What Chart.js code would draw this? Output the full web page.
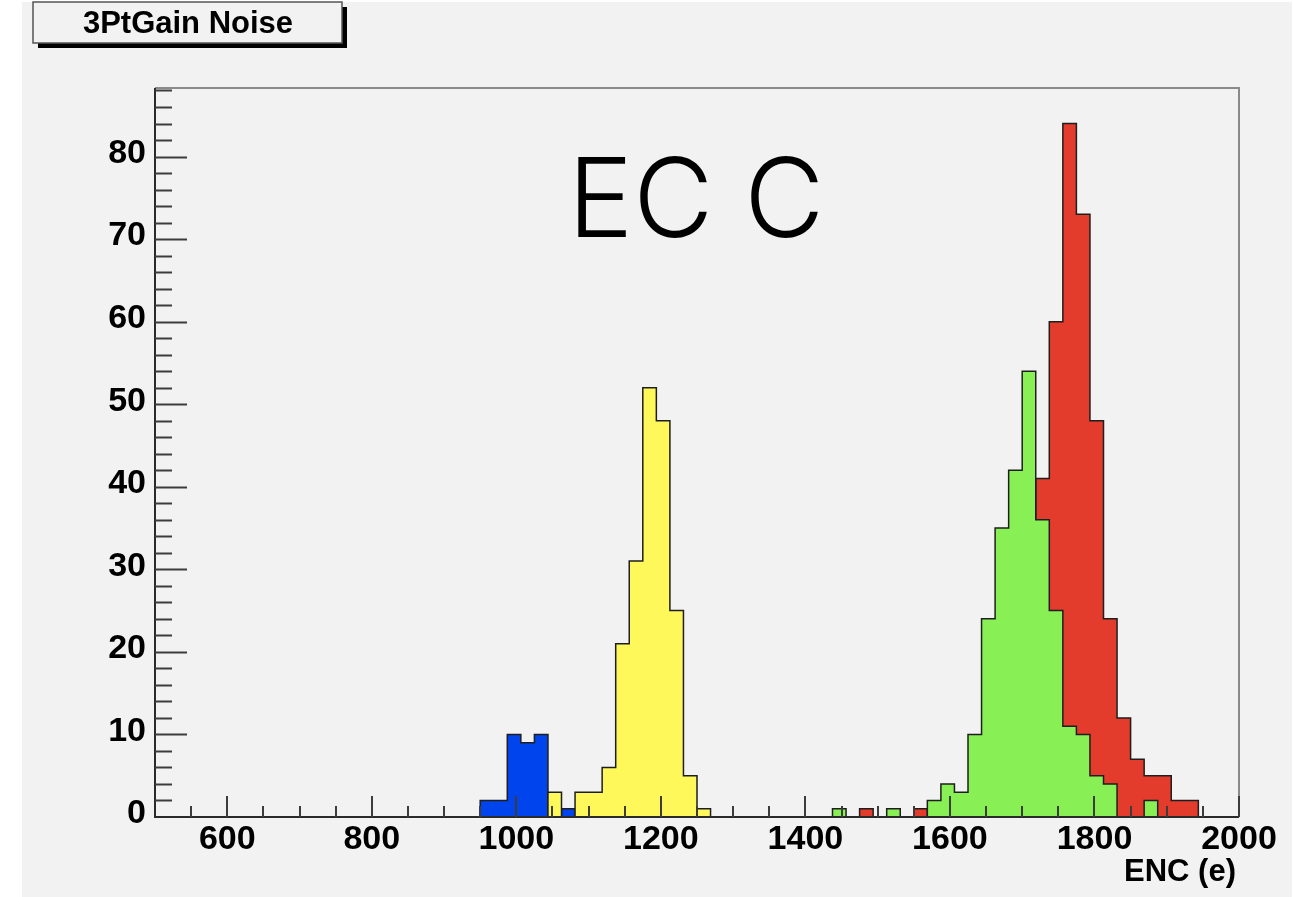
<!DOCTYPE html>
<html>
<head>
<meta charset="utf-8">
<title>3PtGain Noise</title>
<script src="https://cdn.jsdelivr.net/npm/chart.js@4.4.1/dist/chart.umd.min.js"></script>
<style>
  html, body { margin: 0; padding: 0; background: #ffffff; }
  canvas { display: block; }
</style>
</head>
<body>
<canvas id="noiseChart" width="1294" height="897"></canvas>
<script>
// Histogram binning: 80 bins across 500..2000 e
const binLow = 500;
const binWidth = 18.75;
const nBins = 80;

// Bin counts per chip group, starting at the given bin index
const blueFirstBin = 24;
const blueCounts = [2, 2, 10, 9, 10, 0, 1];

const yellowFirstBin = 29;
const yellowCounts = [3, 0, 3, 3, 6, 21, 31, 52, 48, 25, 5, 1];

const greenFirstBin = 50;
const greenCounts = [1, 0, 0, 0, 1, 0, 0, 2, 4, 3, 10, 24, 35, 42, 54, 36, 25, 11, 10, 5, 4, 0, 0, 2];

const redFirstBin = 52;
const redCounts = [1, 0, 0, 0, 1, 0, 0, 0, 0, 0, 0, 0, 0, 41, 60, 84, 73, 48, 24, 12, 7, 5, 5, 2, 2];

// Axis labels
const xTickValues = [600, 800, 1000, 1200, 1400, 1600, 1800, 2000];
const yTickValues = [0, 10, 20, 30, 40, 50, 60, 70, 80];
const xTitle = "ENC (e)";
const histTitle = "3PtGain Noise";
const panelLabel = "EC C";

// Turn bin counts into a closed step outline (two points per bin)
function histPoints(firstBin, counts) {
    const pts = [];
    for (let i = 0; i < nBins; i++) {
        const k = i - firstBin;
        const v = (k >= 0 && k < counts.length) ? counts[k] : 0;
        pts.push({ x: binLow + i * binWidth, y: v });
        pts.push({ x: binLow + (i + 1) * binWidth, y: v });
    }
    return pts;
}

function histDataset(label, firstBin, counts, color) {
    return {
        label: label,
        data: histPoints(firstBin, counts),
        borderColor: "#1e1e1e",
        borderWidth: 1.5,
        backgroundColor: color,
        fill: "origin",
        pointRadius: 0,
        tension: 0
    };
}

// ROOT-like frame, ticks and text
const rootFrame = {
    id: "rootFrame",
    beforeDraw(chart) {
        const c = chart.ctx;
        c.save();
        c.fillStyle = "#ffffff";
        c.fillRect(0, 0, chart.width, chart.height);
        c.fillStyle = "#f2f2f2";
        c.fillRect(22, 2, 1270, chart.height - 2);
        c.restore();
    },
    afterDraw(chart) {
        const c = chart.ctx;
        const a = chart.chartArea;
        const xs = chart.scales.x;
        const ys = chart.scales.y;
        c.save();

        // frame: top/right light, left/bottom dark
        c.lineWidth = 2;
        c.strokeStyle = "#8a8a8a";
        c.beginPath();
        c.moveTo(a.left, a.top);
        c.lineTo(a.right, a.top);
        c.lineTo(a.right, a.bottom);
        c.stroke();
        c.strokeStyle = "#2a2a2a";
        c.beginPath();
        c.moveTo(a.left, a.top);
        c.lineTo(a.left, a.bottom);
        c.lineTo(a.right, a.bottom);
        c.stroke();

        // ticks, drawn inside the frame
        c.strokeStyle = "#3c3c3c";
        c.lineWidth = 2;
        c.beginPath();
        for (let v = 2; v <= ys.max; v += 2) {
            const y = Math.round(ys.getPixelForValue(v)) + 0.5;
            const len = v % 10 === 0 ? 32 : 17;
            c.moveTo(a.left, y);
            c.lineTo(a.left + len, y);
        }
        for (let v = 550; v <= xs.max; v += 50) {
            const x = Math.round(xs.getPixelForValue(v));
            const len = (v - 600) % 200 === 0 ? 21 : 11;
            c.moveTo(x, a.bottom);
            c.lineTo(x, a.bottom - len);
        }
        c.stroke();

        // histogram title box with drop shadow
        c.fillStyle = "#000000";
        c.fillRect(38, 43, 309, 5);
        c.fillRect(342, 7, 5, 41);
        c.fillStyle = "#f2f2f2";
        c.fillRect(33, 2, 309, 41);
        c.strokeStyle = "#555555";
        c.lineWidth = 1.5;
        c.strokeRect(33, 2, 309, 41);
        c.fillStyle = "#000000";
        c.font = "bold 31px 'Liberation Sans', Arial, sans-serif";
        c.textAlign = "center";
        c.textBaseline = "alphabetic";
        c.fillText(histTitle, 188, 33);

        // x axis title
        c.textAlign = "right";
        c.font = "bold 31px 'Liberation Sans', Arial, sans-serif";
        c.fillText(xTitle, 1236, 881);

        // panel label
        c.textAlign = "center";
        c.font = "300 110px Inter, 'Liberation Sans', sans-serif";
        c.fillText(panelLabel, 696, 237);

        c.restore();
    }
};

const tickFont = { family: "'Liberation Sans', Arial, sans-serif", size: 34, weight: "bold" };

new Chart(document.getElementById("noiseChart"), {
    type: "line",
    data: {
        datasets: [
            histDataset("green", greenFirstBin, greenCounts, "#88f054"),
            histDataset("red", redFirstBin, redCounts, "#e33b2c"),
            histDataset("yellow", yellowFirstBin, yellowCounts, "#fff85a"),
            histDataset("blue", blueFirstBin, blueCounts, "#0044ee")
        ]
    },
    options: {
        responsive: false,
        animation: false,
        layout: { padding: { top: 88, right: 55, left: 0, bottom: 0 } },
        plugins: {
            legend: { display: false },
            tooltip: { enabled: false }
        },
        scales: {
            x: {
                type: "linear",
                min: binLow,
                max: binLow + nBins * binWidth,
                grid: { display: false, drawTicks: false },
                border: { display: false },
                ticks: {
                    color: "#000000",
                    font: tickFont,
                    padding: 2,
                    autoSkip: false,
                    maxRotation: 0,
                    callback: v => String(v)
                },
                afterBuildTicks: s => { s.ticks = xTickValues.map(v => ({ value: v })); },
                afterFit: s => { s.height = 80; }
            },
            y: {
                min: 0,
                max: 88.3,
                grid: { display: false, drawTicks: false },
                border: { display: false },
                ticks: {
                    color: "#000000",
                    font: tickFont,
                    padding: 9,
                    labelOffset: -3,
                    callback: v => String(v)
                },
                afterBuildTicks: s => { s.ticks = yTickValues.map(v => ({ value: v })); },
                afterFit: s => { s.width = 155; }
            }
        }
    },
    plugins: [rootFrame]
});
</script>
</body>
</html>
